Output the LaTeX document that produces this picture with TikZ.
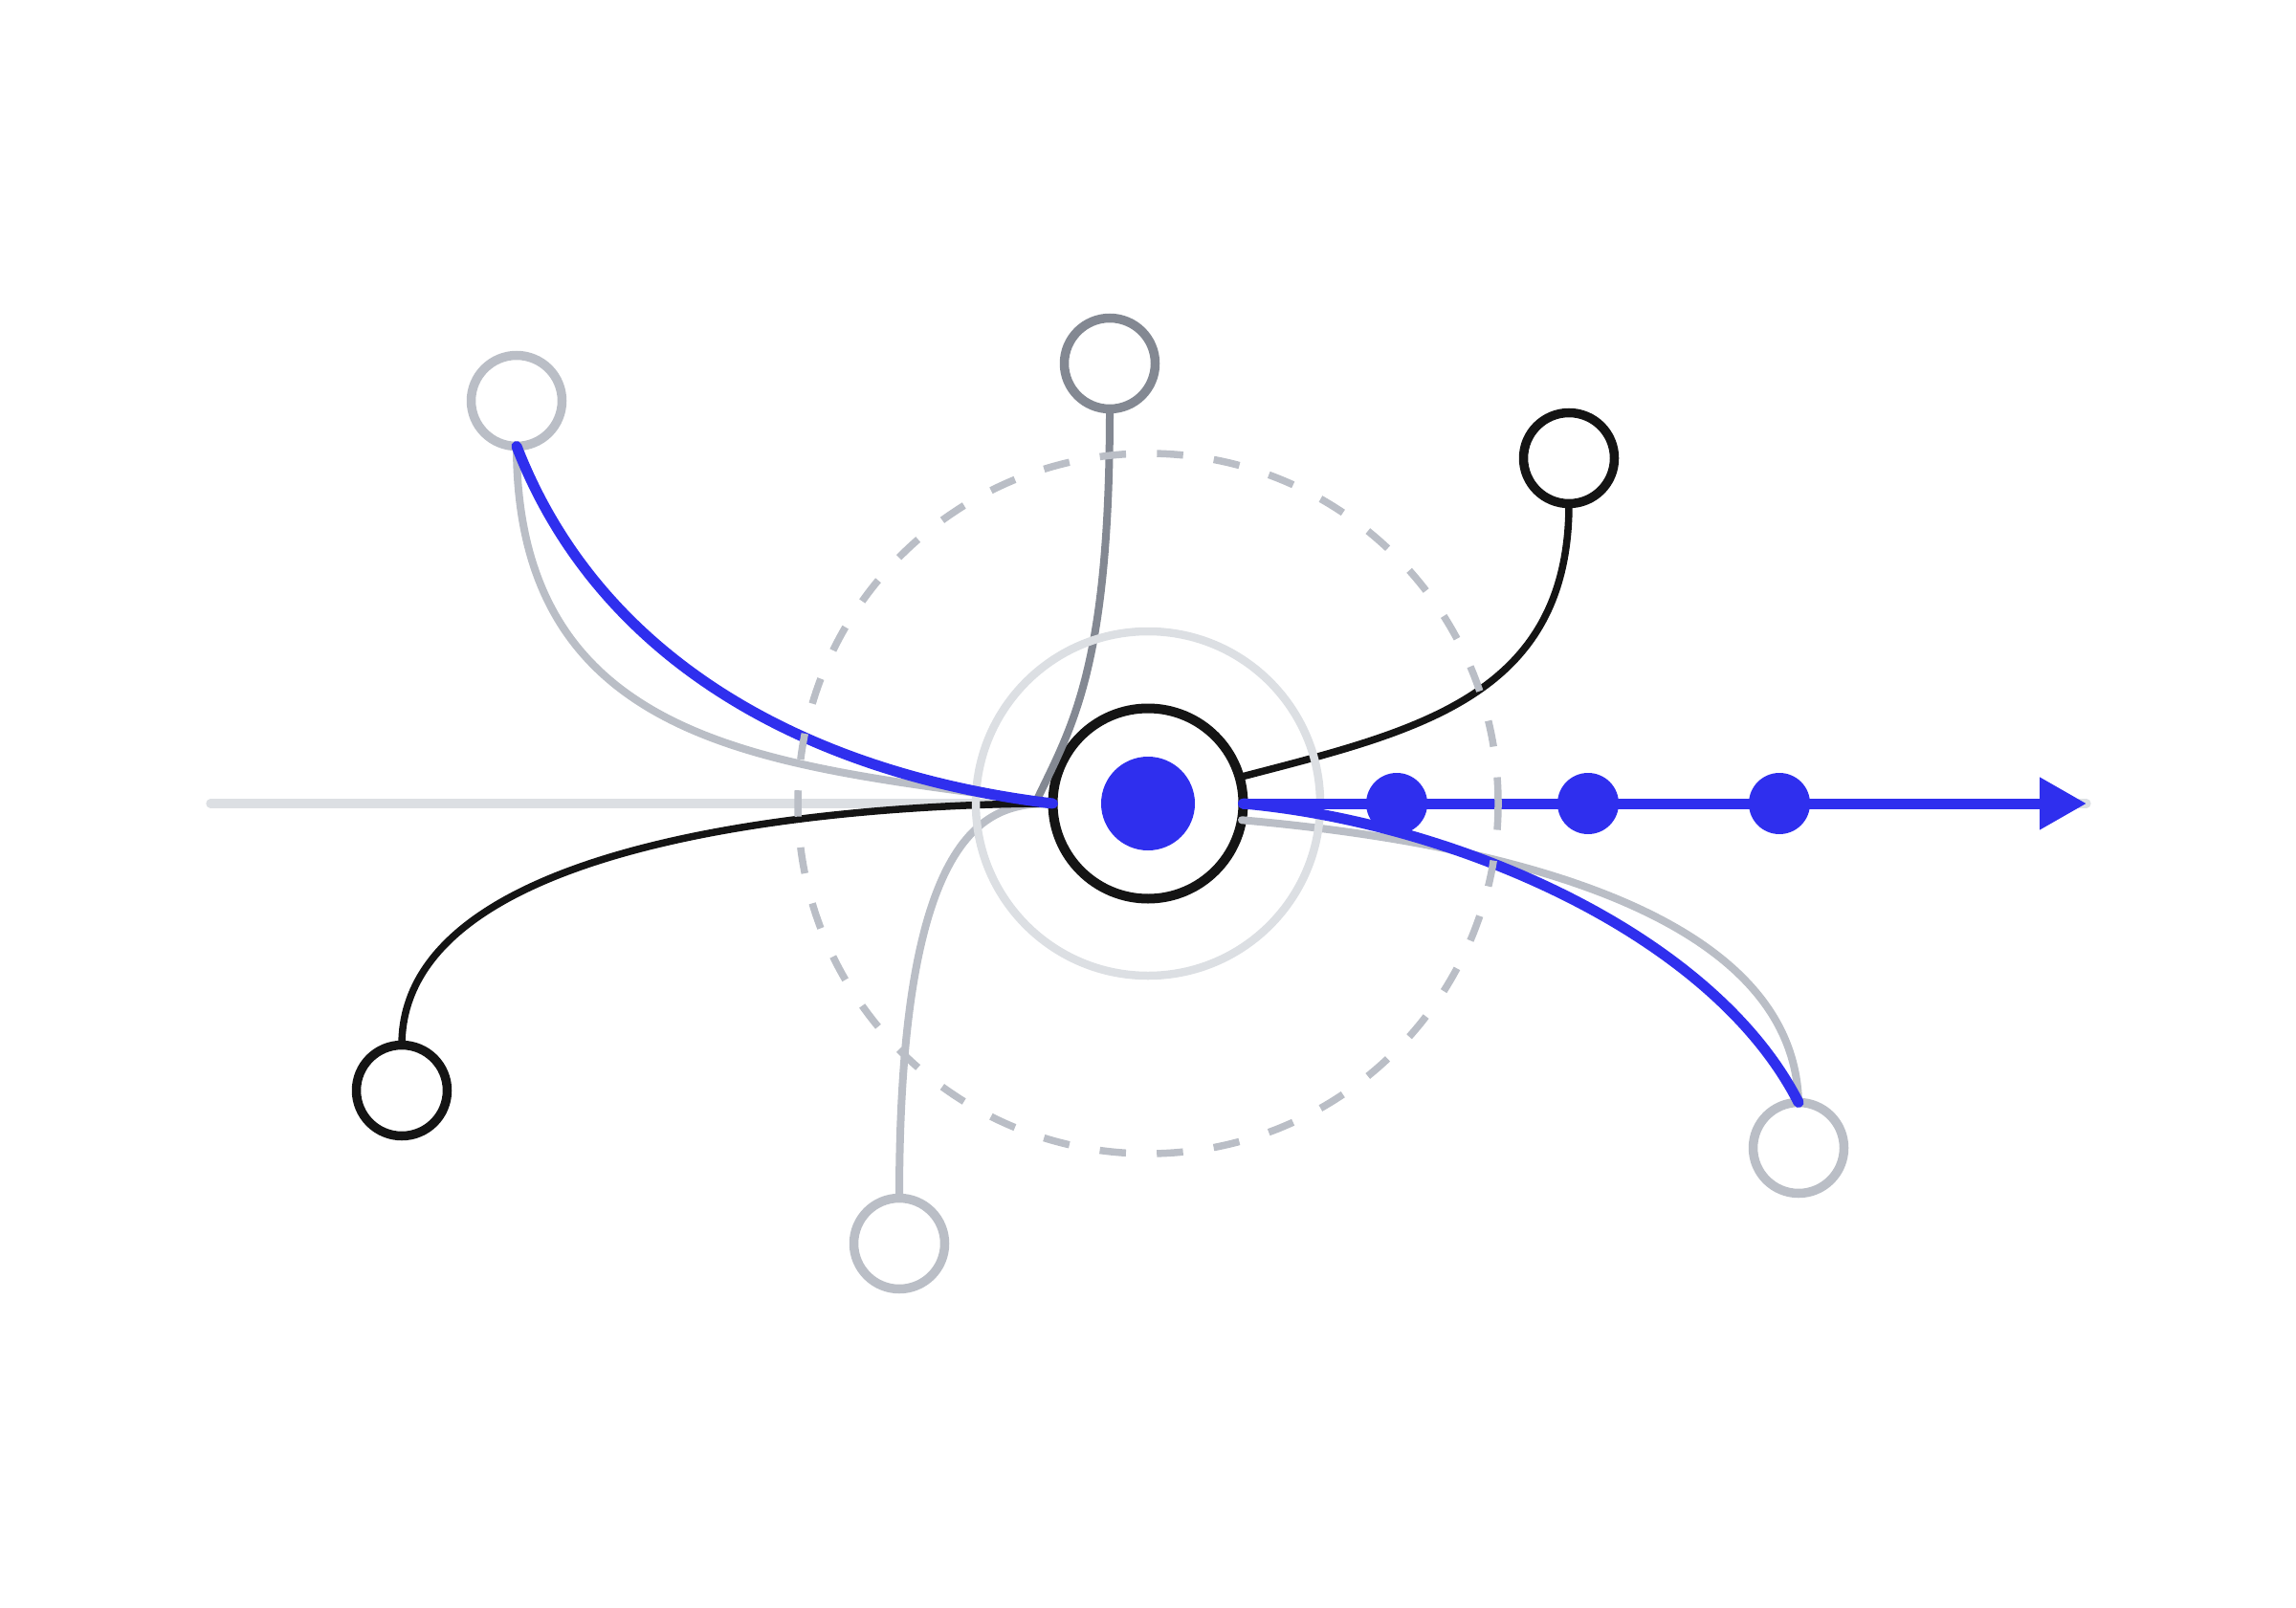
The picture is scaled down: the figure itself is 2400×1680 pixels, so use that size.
\documentclass[tikz,border=0pt]{standalone}
\usetikzlibrary{arrows.meta}

\definecolor{ink}{HTML}{141414}
\definecolor{accent}{HTML}{2F2FEE}
\definecolor{slate}{HTML}{838892}
\definecolor{mist}{HTML}{BABEC6}
\definecolor{haze}{HTML}{DCDFE3}

\begin{document}
\begin{tikzpicture}[x=0.1mm,y=0.1mm,line cap=round,
  port/.style={circle,draw=#1,fill=white,line width=0.95mm,
    minimum size=9.5mm,inner sep=0pt,outer sep=0pt},
  link/.style={#1,line width=0.8mm},
  flow/.style={accent,line width=1.1mm}]

\useasboundingbox (0,0) rectangle (2400,1680);

\def\ringR{180} \def\orbitR{366} \def\dotR{32}

 \coordinate (tail) at (220,840);
 \coordinate (head) at (2181,840);
 \draw[haze,line width=0.93mm] (tail) -- (head);

 % nodes
 \node[circle,draw=ink,fill=white,line width=1mm,minimum size=19.9mm,
   inner sep=0pt,outer sep=0pt] (hub) at (1200,840) {};
 \fill[accent] (hub.center) circle (49);

 \node[port=mist]  (nw) at (540,1261) {};
 \node[port=slate] (nn) at (1160,1300) {};
 \node[port=ink]   (ne) at (1640,1201) {};
 \node[port=ink]   (sw) at (420,540) {};
 \node[port=mist]  (ss) at (940,380) {};
 \node[port=mist]  (se) at (1880,480) {};

 \coordinate (merge) at (1083,842);

 % grey links
 \draw[link=mist] (nw.south) .. controls +(0,-323) and +(-280,40) .. (hub.west);
 \draw[link=mist] (ss.north) .. controls +(0,405) and +(-60,0) .. (hub.west);
 \draw[link=mist] (hub.-10) .. controls +(262,-23) and +(-5,202) .. (se.north);
 \draw[link=slate] (nn.south) .. controls +(0,-272) and +(37,78) .. (merge);

 % black links
 \draw[ink,line width=0.75mm] (sw.north) .. controls +(0,242) and +(-110,0) .. (hub.west);
 \draw[ink,line width=0.75mm] (ne.south) .. controls +(0,-203) and +(184,48) .. (hub.16);

 \draw[haze,line width=0.85mm] (hub.center) circle (\ringR);

 % blue path
 \draw[flow] (nw.south) .. controls +(90,-233) and +(-243,29) .. (hub.west);
 \draw[flow] (hub.east) .. controls +(220,-20) and +(-90,177) .. (se.north);
 \draw[flow,-{Triangle[length=4.9mm,width=5.2mm]}] (hub.east) -- (head);
 \foreach \x in {1460,1660,1860}
  \fill[accent] (\x,840) circle (\dotR);

 \draw[mist,line width=0.75mm,line cap=butt,dash pattern=on 2.75mm off 3.23mm]
   (hub.center) circle (\orbitR);

\end{tikzpicture}
\end{document}
